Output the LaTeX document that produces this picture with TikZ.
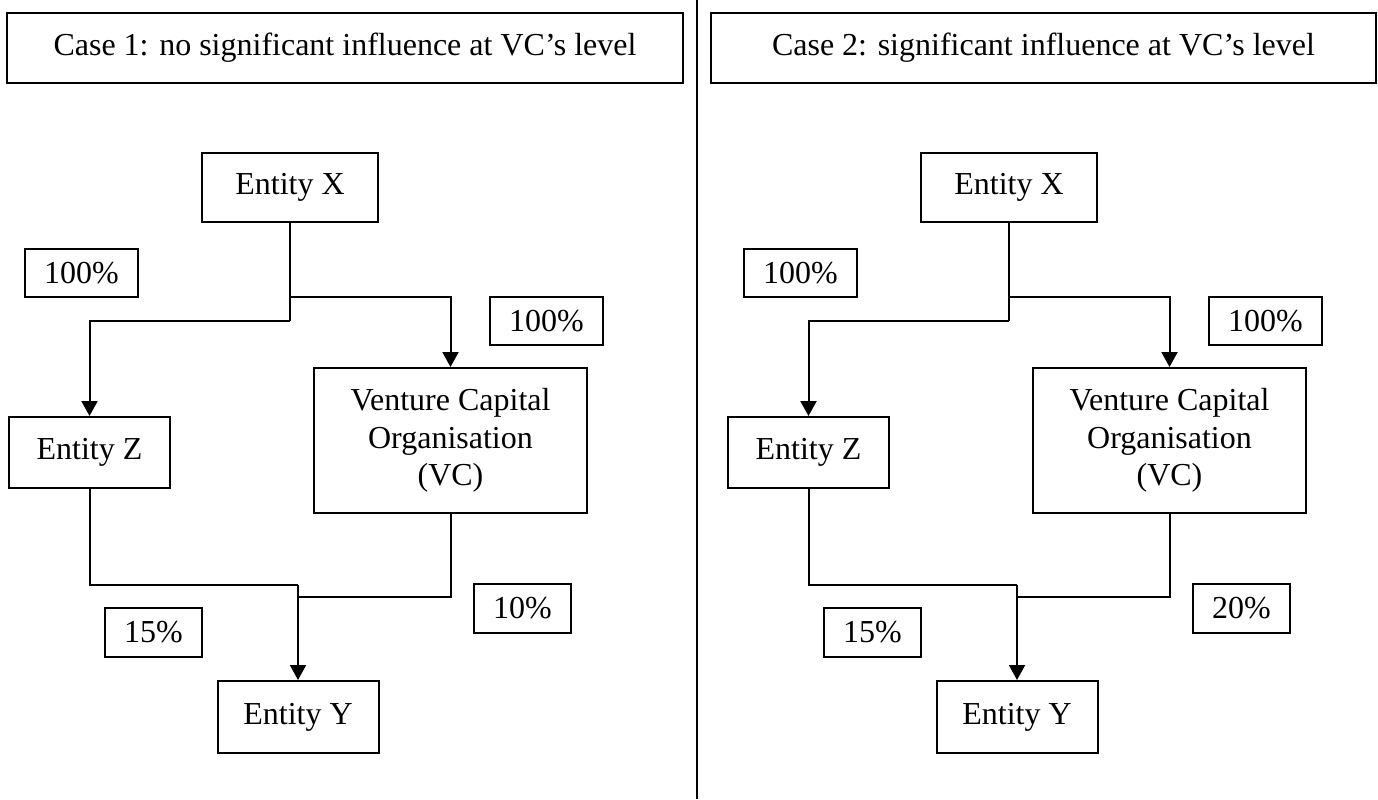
\documentclass[tikz,border=0pt]{standalone}
\usepackage{fontspec}
\setmainfont{Liberation Serif}
\usetikzlibrary{arrows.meta}
\tikzset{
  box/.style={draw, line width=1pt, inner sep=0pt, align=center, font=\fontsize{16}{18.75}\selectfont},
  casebox/.style={box, minimum height=35pt},
  entity/.style={box, minimum width=80.5pt, minimum height=36pt},
  pct/.style={box, minimum width=48.5pt, minimum height=24.5pt},
  link/.style={line width=1pt},
  arr/.style={link, -{Triangle[length=7.5pt,width=8pt]}}
}

\begin{document}
\begin{tikzpicture}[x=0.5pt,y=-0.5pt]
    \useasboundingbox (0,0) rectangle (1378,799);

    % divider
    \coordinate (divtop) at (697,0);
    \coordinate (divbot) at (697,799);
    \draw[link] (divtop) -- (divbot);

    % Case 1
    \node[casebox, minimum width=338pt] (case1) at (345,48) {Case 1: no significant influence at VC’s level};
    \node[entity, minimum width=88pt, minimum height=34.5pt] (x1) at (290,187.5) {Entity X};
    \node[entity, minimum height=35.5pt] (z1) at (89.5,452.5) {Entity Z};
    \node[box, minimum width=136.5pt, minimum height=72.5pt] (vc1) at (450.5,440.5) {Venture Capital\\Organisation\\(VC)};
    \node[entity] (y1) at (298,717) {Entity Y};
    \node[pct, minimum width=56.5pt, minimum height=24pt] (p1a) at (81.5,273) {100\%};
    \node[pct, minimum width=56.5pt, minimum height=24pt] (p1b) at (546.5,321) {100\%};
    \node[pct] (p1c) at (153.5,632.5) {15\%};
    \node[pct] (p1d) at (522.5,608.5) {10\%};
    \coordinate (j1a) at (290,297);
    \coordinate (j1b) at (290,321);
    \coordinate (k1a) at (298,585);
    \coordinate (k1b) at (298,597);
    \draw[link] (x1.south) -- (j1b);
    \draw[arr] (j1b) -| (z1.north);
    \draw[arr] (j1a) -| (vc1.north);
    \draw[link] (z1.south) |- (k1a);
    \draw[link] (vc1.south) |- (k1b);
    \draw[arr] (k1a) -- (y1.north);

    % Case 2
    \node[casebox, minimum width=332.5pt] (case2) at (1043.5,48) {Case 2: significant influence at VC’s level};
    \node[entity, minimum width=88pt, minimum height=34.5pt] (x2) at (1009,187.5) {Entity X};
    \node[entity, minimum height=35.5pt] (z2) at (808.5,452.5) {Entity Z};
    \node[box, minimum width=136.5pt, minimum height=72.5pt] (vc2) at (1169.5,440.5) {Venture Capital\\Organisation\\(VC)};
    \node[entity] (y2) at (1017,717) {Entity Y};
    \node[pct, minimum width=56.5pt, minimum height=24pt] (p2a) at (800.5,273) {100\%};
    \node[pct, minimum width=56.5pt, minimum height=24pt] (p2b) at (1265.5,321) {100\%};
    \node[pct] (p2c) at (872.5,632.5) {15\%};
    \node[pct] (p2d) at (1241.5,608.5) {20\%};
    \coordinate (j2a) at (1009,297);
    \coordinate (j2b) at (1009,321);
    \coordinate (k2a) at (1017,585);
    \coordinate (k2b) at (1017,597);
    \draw[link] (x2.south) -- (j2b);
    \draw[arr] (j2b) -| (z2.north);
    \draw[arr] (j2a) -| (vc2.north);
    \draw[link] (z2.south) |- (k2a);
    \draw[link] (vc2.south) |- (k2b);
    \draw[arr] (k2a) -- (y2.north);
\end{tikzpicture}
\end{document}
